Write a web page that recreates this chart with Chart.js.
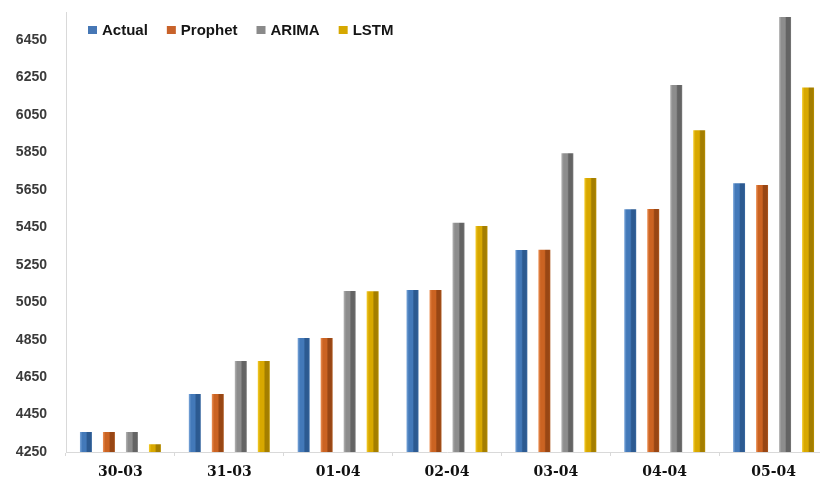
<!DOCTYPE html>
<html>
<head>
<meta charset="utf-8">
<script src="https://cdn.jsdelivr.net/npm/chart.js@4/dist/chart.umd.min.js"></script>
<style>
  html, body { margin: 0; padding: 0; background: #ffffff; overflow: hidden; }
  #wrap { position: relative; width: 830px; height: 480px; }
</style>
</head>
<body>
<div id="wrap"><canvas id="chart"></canvas></div>
<script>
// Dates and daily values for each forecasting method
const dates   = ['30-03', '31-03', '01-04', '02-04', '03-04', '04-04', '05-04'];
const actual  = [4357, 4560, 4859, 5115, 5329, 5546, 5686];
const prophet = [4357, 4560, 4859, 5115, 5330, 5548, 5676];
const arima   = [4357, 4736, 5110, 5474, 5846, 6210, 6573];
const lstm    = [4292, 4736, 5108, 5457, 5713, 5969, 6197];
const yTicks  = [4250, 4450, 4650, 4850, 5050, 5250, 5450, 5650, 5850, 6050, 6250, 6450];

// Cylinder-like shading per series: [left highlight, body, shadow, right edge]
const shades = [
  ['#7aa6da', '#4379b9', '#2c5a91', '#3a6aa3'],
  ['#ec9156', '#cb6322', '#984614', '#b05a20'],
  ['#b4b4b4', '#8d8d8d', '#646464', '#7a7a7a'],
  ['#f4cc2a', '#d8a800', '#a47e00', '#bb9100']
];
const legendColors = ['#4677b5', '#c8622a', '#8a8a8a', '#d6a800'];

function gradientFor(ctx, left, width, s) {
  const g = ctx.createLinearGradient(left, 0, left + width, 0);
  g.addColorStop(0, s[0]);
  g.addColorStop(0.2, s[1]);
  g.addColorStop(0.5, s[1]);
  g.addColorStop(0.62, s[2]);
  g.addColorStop(0.88, s[2]);
  g.addColorStop(1, s[3]);
  return g;
}

// Paint each bar with a horizontal gradient based on its own geometry
const barShading = {
  id: 'barShading',
  beforeDatasetsDraw(chart) {
    const ctx = chart.ctx;
    chart.data.datasets.forEach((ds, i) => {
      const meta = chart.getDatasetMeta(i);
      meta.data.forEach(el => {
        const p = el.getProps(['x', 'width'], true);
        const left = p.x - p.width / 2;
        el.options = Object.assign({}, el.options, {
          backgroundColor: gradientFor(ctx, left, p.width, shades[i])
        });
      });
    });
  }
};

// Legend drawn inside the plot, near its top-left corner
const insideLegend = {
  id: 'insideLegend',
  afterDraw(chart) {
    const ctx = chart.ctx;
    let x = 88;
    const y = 30;
    ctx.save();
    ctx.font = 'bold 15px "Liberation Sans", Arial, sans-serif';
    ctx.textBaseline = 'middle';
    ctx.textAlign = 'left';
    chart.data.datasets.forEach((ds, i) => {
      ctx.fillStyle = legendColors[i];
      ctx.fillRect(x, y - 4, 9, 8);
      x += 14;
      ctx.fillStyle = '#151515';
      ctx.fillText(ds.label, x, y + 1);
      x += ctx.measureText(ds.label).width + 19;
    });
    ctx.restore();
  }
};

new Chart(document.getElementById('chart'), {
  type: 'bar',
  data: {
    labels: dates,
    datasets: [
      { label: 'Actual',  data: actual },
      { label: 'Prophet', data: prophet },
      { label: 'ARIMA',   data: arima },
      { label: 'LSTM',    data: lstm }
    ]
  },
  options: {
    responsive: true,
    maintainAspectRatio: false,
    animation: false,
    layout: { padding: { top: 12, right: 2, left: 0, bottom: 0 } },
    datasets: {
      bar: {
        categoryPercentage: 0.845,
        barPercentage: 0.52,
        backgroundColor: '#4677b5',
        borderWidth: 0
      }
    },
    plugins: {
      legend: { display: false },
      tooltip: { enabled: false }
    },
    scales: {
      x: {
        offset: true,
        afterFit: s => { s.height = 28; s.paddingLeft = 0; s.paddingRight = 0; },
        grid: {
          offset: true,
          drawOnChartArea: false,
          drawTicks: true,
          tickLength: 4,
          color: '#d9d9d9'
        },
        border: { display: true, color: '#d9d9d9', width: 1 },
        ticks: {
          padding: 8,
          color: '#111111',
          font: { family: '"DejaVu Serif", serif', weight: 'bold', size: 14 }
        }
      },
      y: {
        min: 4250,
        max: 6600,
        afterBuildTicks: s => { s.ticks = yTicks.map(v => ({ value: v })); },
        afterFit: s => { s.width = 66; s.paddingTop = 0; s.paddingBottom = 0; },
        grid: { drawOnChartArea: false, drawTicks: false },
        border: { display: true, color: '#d9d9d9', width: 1 },
        ticks: {
          padding: 19,
          color: '#3a3a3a',
          callback: v => String(v),
          font: { family: '"Liberation Sans", Arial, sans-serif', weight: 'bold', size: 14 }
        }
      }
    }
  },
  plugins: [barShading, insideLegend]
});
</script>
</body>
</html>
